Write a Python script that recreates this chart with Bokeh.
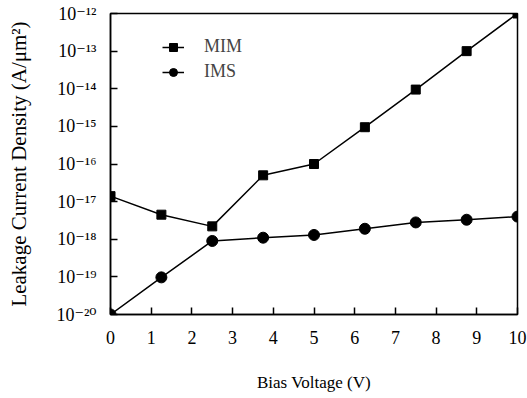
from bokeh.plotting import figure
from bokeh.models import FixedTicker, CustomJSTickFormatter, Legend, LegendItem
from bokeh.embed import file_html
from bokeh.resources import INLINE

voltage = [0, 1.25, 2.5, 3.75, 5, 6.25, 7.5, 8.75, 10]
mim = [1.4e-17, 4.5e-18, 2.2e-18, 5.0e-17, 1.0e-16, 9.5e-16, 9.5e-15, 1.0e-13, 1.0e-12]
ims = [1.0e-20, 9.7e-20, 9.0e-19, 1.1e-18, 1.3e-18, 1.9e-18, 2.8e-18, 3.3e-18, 4.0e-18]
x_ticks = [0, 1, 2, 3, 4, 5, 6, 7, 8, 9, 10]
y_ticks = [1e-20, 1e-19, 1e-18, 1e-17, 1e-16, 1e-15, 1e-14, 1e-13, 1e-12]

FONT = "Liberation Serif"
TICK_FONT = "'Liberation Serif', 'DejaVu Serif', serif"

p = figure(width=527, height=398, output_backend="svg", toolbar_location=None,
           y_axis_type="log", x_range=(0, 10), y_range=(1e-20, 1e-12))
p.min_border_left = 110
p.min_border_right = 10
p.min_border_top = 13
p.min_border_bottom = 84
p.grid.visible = False
p.outline_line_color = "black"
p.outline_line_width = 1.5
p.background_fill_color = "white"
p.border_fill_color = "white"

l1 = p.line(voltage, mim, line_color="black", line_width=1.5)
s1 = p.scatter(voltage, mim, marker="square", size=9, fill_color="black", line_color="black")
l2 = p.line(voltage, ims, line_color="black", line_width=1.5)
s2 = p.scatter(voltage, ims, marker="circle", size=11, fill_color="black", line_color="black")

p.xaxis.ticker = FixedTicker(ticks=x_ticks, minor_ticks=[])
p.yaxis.ticker = FixedTicker(ticks=y_ticks, minor_ticks=[])
p.yaxis.formatter = CustomJSTickFormatter(code="""
const e = Math.round(Math.log10(tick));
const sup = {'-':'\u207B','0':'\u2070','1':'\u00B9','2':'\u00B2','3':'\u00B3','4':'\u2074','5':'\u2075','6':'\u2076','7':'\u2077','8':'\u2078','9':'\u2079'};
return '10' + String(e).split('').map(c => sup[c]).join('');
""")

for ax in (p.xaxis, p.yaxis):
    ax.axis_line_color = "black"
    ax.axis_line_width = 1.5
    ax.major_tick_line_color = "black"
    ax.major_tick_line_width = 1.5
    ax.major_tick_in = 7
    ax.major_tick_out = 0
    ax.minor_tick_line_color = None
    ax.major_label_text_font = TICK_FONT
    ax.major_label_text_font_size = "18px"
    ax.major_label_text_color = "black"
    ax.axis_label_text_font = FONT
    ax.axis_label_text_font_style = "normal"
    ax.axis_label_text_color = "black"

p.xaxis.axis_label = "Bias Voltage (V)"
p.yaxis.axis_label = "Leakage Current Density (A/\u03bcm\u00b2)"
p.xaxis.axis_label_text_font_size = "17px"
p.yaxis.axis_label_text_font_size = "21px"
p.xaxis.major_label_standoff = 16
p.xaxis.axis_label_standoff = 26
p.yaxis.major_label_standoff = 14
p.yaxis.axis_label_standoff = 22
try:
    p.yaxis.axis_label_align = "left"
except Exception:
    pass

legend = Legend(items=[LegendItem(label="MIM", renderers=[l1, s1]),
                       LegendItem(label="IMS", renderers=[l2, s2])],
                location=(52, 232))
legend.border_line_color = None
legend.background_fill_alpha = 0
legend.label_text_font = FONT
legend.label_text_font_size = "18px"
legend.glyph_width = 22
legend.glyph_height = 20
legend.label_height = 20
legend.spacing = 4
legend.padding = 5
legend.margin = 0
legend.label_standoff = 20
p.add_layout(legend)

open("out.html", "w").write(file_html(p, INLINE))
